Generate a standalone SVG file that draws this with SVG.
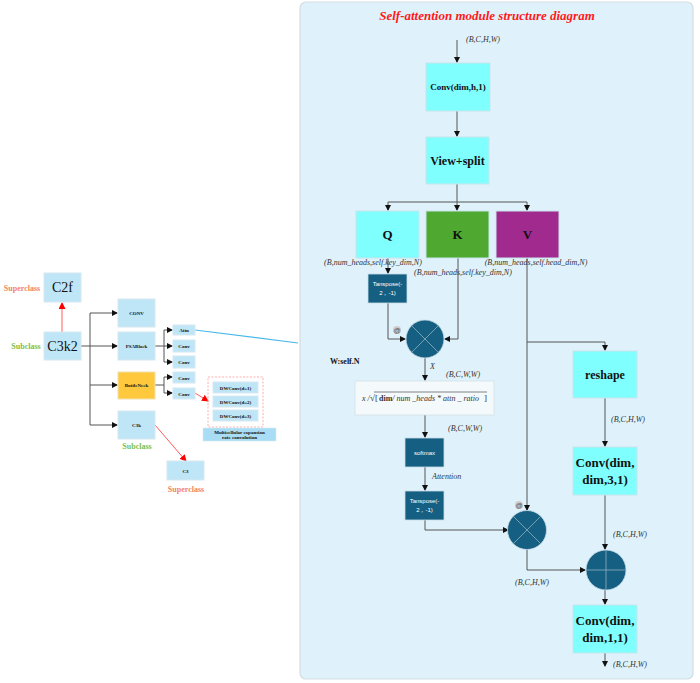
<svg xmlns="http://www.w3.org/2000/svg" width="700" height="683" viewBox="0 0 700 683">
<defs>
<marker id="ah" markerWidth="6" markerHeight="6" refX="5" refY="3" orient="auto" markerUnits="userSpaceOnUse"><path d="M0,0 L6,3 L0,6 Z" fill="#111"/></marker>
<marker id="ahr" markerWidth="7" markerHeight="7" refX="6" refY="3.5" orient="auto" markerUnits="userSpaceOnUse"><path d="M0,0 L7,3.5 L0,7 Z" fill="#f00"/></marker>
<style>
.lb{fill:#bfe6f7;stroke:#d6e8ef;stroke-width:1}
.cy{fill:#80ffff;stroke:#c8e4ec;stroke-width:1}
.db{fill:#155f82;stroke:#c8dbe4;stroke-width:0.8}
.c{fill:none;stroke:#555;stroke-width:1}
.cr{fill:none;stroke:#ff5a5a;stroke-width:1}
.t{font-family:"Liberation Serif",serif;fill:#111;text-anchor:middle}
.sb{font-family:"Liberation Serif",serif;font-weight:bold;fill:#111;text-anchor:middle;font-size:5px}
.it{font-family:"Liberation Serif",serif;font-style:italic;fill:#333;font-size:8px}
.bx{font-family:"Liberation Serif",serif;font-weight:bold;fill:#111;text-anchor:middle}
.wt{font-family:"Liberation Sans",sans-serif;fill:#fff;text-anchor:middle;font-size:6px}
.sup{font-family:"Liberation Serif",serif;font-weight:bold;fill:#f4845f;font-size:8px;text-anchor:middle}
.sub{font-family:"Liberation Serif",serif;font-weight:bold;fill:#7cbf4a;font-size:8px;text-anchor:middle}
.cl{stroke:#8fb0c0;stroke-width:0.8}
</style>
</defs>

<!-- panel -->
<g id="panel">
<rect x="300" y="2" width="393" height="677" rx="6" fill="#dff2fb" stroke="#d4dde2" stroke-width="1.2"/>
<text x="487" y="20" font-family="Liberation Serif,serif" font-weight="bold" font-style="italic" font-size="13" fill="#ff1a1a" text-anchor="middle">Self-attention module structure diagram</text>
</g>

<!-- connectors -->
<g id="connectors">
<line class="cr" x1="62" y1="332" x2="62" y2="303" marker-end="url(#ahr)"/>
<path class="c" d="M81,346 H90"/>
<path class="c" d="M90,313 V425"/>
<path class="c" d="M90,313 H117" marker-end="url(#ah)"/>
<path class="c" d="M90,346 H117" marker-end="url(#ah)"/>
<path class="c" d="M90,385 H117" marker-end="url(#ah)"/>
<path class="c" d="M90,425 H117" marker-end="url(#ah)"/>
<path class="c" d="M155,346 H164 M164,330 V362"/>
<path class="c" d="M164,330 H172" marker-end="url(#ah)"/>
<path class="c" d="M164,346 H172" marker-end="url(#ah)"/>
<path class="c" d="M164,362 H172" marker-end="url(#ah)"/>
<path class="c" d="M155,385 H164 M164,377 V393"/>
<path class="c" d="M164,377 H172" marker-end="url(#ah)"/>
<path class="c" d="M164,393 H172" marker-end="url(#ah)"/>
<line class="cr" x1="195" y1="393" x2="208" y2="401" marker-end="url(#ahr)"/>
<line class="cr" x1="155" y1="425" x2="186" y2="461" marker-end="url(#ahr)"/>
<line x1="195" y1="330" x2="298" y2="343" stroke="#4ab8e8" stroke-width="1.2"/>

<path class="c" d="M457,40 V62" marker-end="url(#ah)"/>
<path class="c" d="M457,111 V136" marker-end="url(#ah)"/>
<path class="c" d="M457,184 V202 M388,202 H527"/>
<path class="c" d="M388,202 V210" marker-end="url(#ah)"/>
<path class="c" d="M457,202 V210" marker-end="url(#ah)"/>
<path class="c" d="M527,202 V210" marker-end="url(#ah)"/>
<path class="c" d="M388,258 V273" marker-end="url(#ah)"/>
<path class="c" d="M388,303 V339 H405" marker-end="url(#ah)"/>
<path class="c" d="M458,258 V339 H445" marker-end="url(#ah)"/>
<path class="c" d="M425,358 V380" marker-end="url(#ah)"/>
<path class="c" d="M425,415 V437" marker-end="url(#ah)"/>
<path class="c" d="M425,467 V490" marker-end="url(#ah)"/>
<path class="c" d="M425,520 V530 H508" marker-end="url(#ah)"/>
<path class="c" d="M527,258 V510" marker-end="url(#ah)"/>
<path class="c" d="M527,342 H605 V350" marker-end="url(#ah)"/>
<path class="c" d="M605,398 V446" marker-end="url(#ah)"/>
<path class="c" d="M605,495 V549" marker-end="url(#ah)"/>
<path class="c" d="M527,549 V570 H585" marker-end="url(#ah)"/>
<path class="c" d="M605,590 V604" marker-end="url(#ah)"/>
<path class="c" d="M605,653 V666" marker-end="url(#ah)"/>
</g>

<!-- left nodes -->
<g id="c2f"><rect class="lb" x="44" y="273" width="37" height="29"/><text class="t" x="62.5" y="292" font-size="14">C2f</text></g>
<g id="superclass1"><text class="sup" x="22" y="291">Superclass</text></g>
<g id="c3k2"><rect class="lb" x="44" y="332" width="37" height="28"/><text class="t" x="62.5" y="351" font-size="14">C3k2</text></g>
<g id="subclass1"><text class="sub" x="26" y="349">Subclass</text></g>
<g id="conv"><rect class="lb" x="118" y="299" width="37" height="28"/><text class="sb" x="136.5" y="315">CONV</text></g>
<g id="psablock"><rect class="lb" x="118" y="332" width="37" height="28"/><text class="sb" x="136.5" y="348">PSABlock</text></g>
<g id="bottleneck"><rect x="118" y="372" width="37" height="27" fill="#ffc83d" stroke="#f0e0b0" stroke-width="1"/><text class="sb" x="136.5" y="387">BottleNeck</text></g>
<g id="c3k"><rect class="lb" x="118" y="411" width="37" height="28"/><text class="sb" x="136.5" y="427">C3k</text></g>
<g id="subclass2"><text class="sub" x="137" y="449">Subclass</text></g>
<g id="attn"><rect class="lb" x="173" y="325" width="22" height="10"/><text class="sb" x="184" y="332">Attn</text></g>
<g id="conv2"><rect class="lb" x="173" y="340" width="22" height="12"/><text class="sb" x="184" y="348">Conv</text></g>
<g id="conv3"><rect class="lb" x="173" y="356" width="22" height="12"/><text class="sb" x="184" y="364">Conv</text></g>
<g id="conv4"><rect class="lb" x="173" y="372" width="22" height="11"/><text class="sb" x="184" y="379.5">Conv</text></g>
<g id="conv5"><rect class="lb" x="173" y="388" width="22" height="11"/><text class="sb" x="184" y="395.5">Conv</text></g>
<g id="dwgroup">
<rect x="208" y="377" width="55" height="50" fill="none" stroke="#ff9a9a" stroke-width="0.8" stroke-dasharray="2,1.5"/>
<rect class="lb" x="213" y="382" width="45" height="11"/><text class="sb" x="235.5" y="389.5">DWConv(d=1)</text>
<rect class="lb" x="213" y="396" width="45" height="11"/><text class="sb" x="235.5" y="403.5">DWConv(d=2)</text>
<rect class="lb" x="213" y="410" width="45" height="11"/><text class="sb" x="235.5" y="417.5">DWConv(d=3)</text>
</g>
<g id="mlabel"><rect x="203" y="428" width="73" height="13" fill="#a8ddf5" stroke="#d6e8ef" stroke-width="0.6"/><text class="sb" x="239.5" y="433.5">Multicellular expansion</text><text class="sb" x="239.5" y="439">rate convolution</text></g>
<g id="c3"><rect class="lb" x="167" y="461" width="37" height="19"/><text class="sb" x="185.5" y="472.5">C3</text></g>
<g id="superclass2"><text class="sup" x="186" y="492">Superclass</text></g>

<!-- right nodes -->
<g id="in-label"><text class="it" x="466" y="42">(B,C,H,W)</text></g>
<g id="convdimh"><rect class="cy" x="426" y="63" width="64" height="48"/><text class="bx" x="458" y="90" font-size="9">Conv(dim,h,1)</text></g>
<g id="viewsplit"><rect class="cy" x="426" y="137" width="63" height="47"/><text class="bx" x="457.5" y="165" font-size="12">View+split</text></g>
<g id="q"><rect class="cy" x="356" y="211" width="63" height="47"/><text class="bx" x="387.5" y="239" font-size="13">Q</text></g>
<g id="k"><rect x="426" y="211" width="63" height="47" fill="#4fa82f" stroke="#c8e4ec" stroke-width="1"/><text class="bx" x="457.5" y="239" font-size="13">K</text></g>
<g id="v"><rect x="496" y="211" width="63" height="47" fill="#a02a8e" stroke="#c8e4ec" stroke-width="1"/><text class="bx" x="527.5" y="239" font-size="13">V</text></g>
<g id="qlabel"><text class="it" x="373" y="265" text-anchor="middle">(B,num_heads,self.key_dim,N)</text></g>
<g id="klabel"><text class="it" x="463" y="275" text-anchor="middle">(B,num_heads,self.key_dim,N)</text></g>
<g id="vlabel"><text class="it" x="536" y="265" text-anchor="middle">(B,num_heads,self.head_dim,N)</text></g>
<g id="transpose1"><rect class="db" x="368" y="274" width="39" height="29"/><text class="wt" x="387.5" y="286">Tanspose(-</text><text class="wt" x="387.5" y="295">2，-1)</text></g>
<g id="mul1"><circle class="db" cx="425" cy="339" r="19"/><path class="cl" d="M411.6,325.6 L438.4,352.4 M438.4,325.6 L411.6,352.4"/></g>
<g id="at1"><circle cx="397" cy="330" r="4" fill="#ccc"/><text x="397" y="332.5" font-family="Liberation Sans,sans-serif" font-size="7" fill="#555" text-anchor="middle">@</text></g>
<g id="wself"><text x="330" y="364" font-family="Liberation Serif,serif" font-weight="bold" font-size="8" fill="#111">W:self.N</text></g>
<g id="xlabel"><text class="it" x="430" y="369">X</text></g>
<g id="bcww1"><text class="it" x="446" y="377">(B,C,W,W)</text></g>
<g id="formula"><rect x="355" y="381" width="139" height="34" fill="#f4f9fb" stroke="#d4e2e8" stroke-width="0.8"/>
<text class="it" x="362" y="401">x /</text><text x="370" y="401" font-family="Liberation Serif,serif" font-size="9" fill="#333">√</text>
<path d="M374,392 H487" stroke="#333" stroke-width="0.6" fill="none"/>
<text x="375" y="401" font-family="Liberation Serif,serif" font-size="9" fill="#333">[</text>
<text x="379" y="401" font-family="Liberation Serif,serif" font-size="8" fill="#333"><tspan font-weight="bold">dim</tspan><tspan font-style="italic">/ num _heads * attn _ ratio</tspan></text>
<text x="484" y="401" font-family="Liberation Serif,serif" font-size="9" fill="#333">]</text>
</g>
<g id="bcww2"><text class="it" x="448" y="431">(B,C,W,W)</text></g>
<g id="softmax"><rect class="db" x="405" y="438" width="39" height="29"/><text class="wt" x="424.5" y="455">softmax</text></g>
<g id="attention"><text class="it" x="432" y="479">Attention</text></g>
<g id="transpose2"><rect class="db" x="405" y="491" width="39" height="29"/><text class="wt" x="424.5" y="503">Tanspose(-</text><text class="wt" x="424.5" y="512">2，-1)</text></g>
<g id="at2"><circle cx="519" cy="505" r="4" fill="#ccc"/><text x="519" y="507.5" font-family="Liberation Sans,sans-serif" font-size="7" fill="#555" text-anchor="middle">@</text></g>
<g id="mul2"><circle class="db" cx="527" cy="530" r="19.5"/><path class="cl" d="M513.2,516.2 L540.8,543.8 M540.8,516.2 L513.2,543.8"/></g>
<g id="bchw-a"><text class="it" x="515" y="585">(B,C,H,W)</text></g>
<g id="reshape"><rect class="cy" x="573" y="351" width="64" height="47"/><text class="bx" x="605" y="379" font-size="12">reshape</text></g>
<g id="bchw-b"><text class="it" x="611" y="422" font-size="7">(B,C,H,W)</text></g>
<g id="conv331"><rect class="cy" x="573" y="447" width="64" height="48"/><text class="bx" x="605" y="467" font-size="13">Conv(dim,</text><text class="bx" x="605" y="484" font-size="13">dim,3,1)</text></g>
<g id="bchw-c"><text class="it" x="613" y="537" font-size="7">(B,C,H,W)</text></g>
<g id="add"><circle class="db" cx="606" cy="570" r="20"/><path class="cl" d="M606,550 V590 M586,570 H626"/></g>
<g id="conv311"><rect class="cy" x="573" y="605" width="64" height="48"/><text class="bx" x="605" y="625" font-size="13">Conv(dim,</text><text class="bx" x="605" y="642" font-size="13">dim,1,1)</text></g>
<g id="bchw-d"><text class="it" x="613" y="667" font-size="7">(B,C,H,W)</text></g>
</svg>
